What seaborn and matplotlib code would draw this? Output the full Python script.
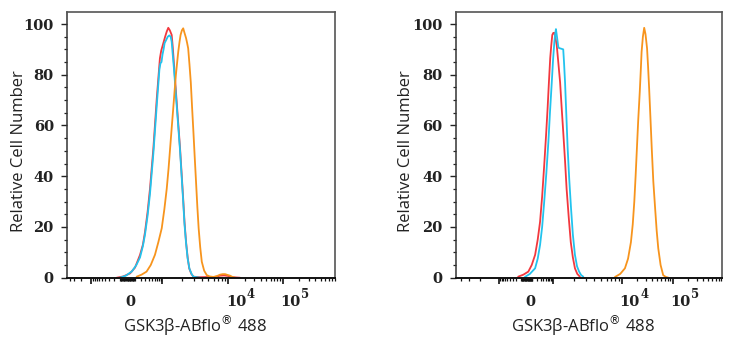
import numpy as np
import pandas as pd
import matplotlib
matplotlib.use("Agg")
import matplotlib.pyplot as plt
import matplotlib.transforms as mtransforms
import seaborn as sns

# ---------------- data (x in display channels 0-1024, y = relative cell number) -------------
left_red_x = [190, 215, 241, 260, 279, 290, 298, 308, 317, 330, 343, 355, 360, 366, 375, 381, 387, 393, 400, 404, 409, 419, 432, 438, 444, 449, 455, 461, 467, 475, 483, 508, 565, 585, 600, 615, 631, 661]
left_red_y = [0, 0.5, 1.7, 4, 9, 13, 18, 26, 35, 51, 70.7, 86.5, 89.5, 91.7, 95, 97, 98.5, 97.5, 95.7, 91, 83.8, 69.4, 51, 41, 31, 22, 14, 8, 3.7, 1.5, 0.4, 0.2, 0.3, 0.8, 0.9, 0.7, 0.2, 0]

left_blue_x = [202, 225, 248, 265, 279, 290, 298, 308, 317, 330, 343, 353, 357, 361, 365, 369, 373, 378, 385, 391, 396, 400, 404, 409, 419, 432, 438, 444, 449, 455, 461, 468, 476, 483, 508]
left_blue_y = [0, 0.8, 2.5, 5, 8, 12.5, 17, 24.5, 33, 49, 68, 82, 84.5, 85, 88, 90, 92.5, 93.5, 95, 95.5, 95, 93, 88, 82, 68, 50, 40, 30, 21, 13.5, 7.5, 3.5, 1.5, 0.4, 0]

left_orange_x = [266, 285, 304, 320, 336, 349, 362, 372, 381, 388, 394, 400, 406, 411, 416, 421, 425, 430, 434, 439, 444, 449, 455, 459, 463, 468, 473, 478, 483, 488, 493, 498, 503, 509, 515, 524, 534, 545, 559, 572, 585, 595, 604, 613, 623, 632, 642]
left_orange_y = [0.4, 1.2, 2.4, 5, 9, 14, 19.5, 27, 35, 43, 51, 59, 66.8, 73.5, 79.9, 85, 89, 93, 95.7, 97.5, 98.3, 96.5, 94.4, 92.5, 90.4, 84, 77, 67, 57.5, 47.5, 37.8, 28, 19.5, 12, 6.3, 2.8, 1, 0.5, 0.3, 0.6, 1.2, 1.4, 1.4, 1.1, 0.8, 0.3, 0]

right_red_x = [240, 260, 279, 292, 305, 315, 324, 332, 340, 347, 353, 358, 363, 367, 371, 375, 379, 383, 388, 394, 401, 407, 413, 420, 426, 434, 442, 450, 458, 467, 477]
right_red_y = [0.4, 1.2, 2.4, 5, 9, 15, 22, 32, 44.4, 56, 66.8, 77, 86.5, 91.5, 95.7, 96.5, 96.5, 94.5, 91.7, 85, 77, 67, 57.5, 46, 35, 24, 14, 8, 3.7, 1.5, 0.4]

right_blue_x = [266, 285, 305, 315, 324, 332, 340, 348, 356, 362, 369, 374, 379, 382, 385, 389, 394, 397, 401, 407, 413, 416, 420, 425, 430, 436, 443, 450, 458, 466, 474, 482, 490]
right_blue_y = [0.3, 1.5, 3.7, 7.5, 12.9, 20, 30, 41, 53.6, 65, 77, 86, 93, 96, 98, 95, 91, 90.5, 90.4, 90.2, 90, 85, 77, 64, 51, 39, 27.3, 17, 9, 4.5, 2.4, 1, 0.4]

right_orange_x = [612, 632, 650, 662, 673, 680, 686, 691, 696, 701, 707, 711, 714, 719, 724, 729, 735, 739, 743, 748, 753, 759, 766, 772, 778, 787, 797, 807, 817]
right_orange_y = [0.3, 1.5, 3.7, 7.5, 14, 21, 30, 40, 51, 62, 73.3, 82, 89, 95, 98.5, 96, 90.4, 83, 74.6, 63, 51, 38, 27.3, 18.5, 11.6, 5, 1, 0.3, 0]

series_names = ["Isotype", "Unstained", "GSK3β"]
series_colors = {"Isotype": "#f2383e", "Unstained": "#22c3ee", "GSK3β": "#f7941d"}

y_ticks = [0, 20, 40, 60, 80, 100]
x_tick_values = [0, 1e4, 1e5]
x_tick_bases = ["0", "10", "10"]
x_tick_exps = ["", "4", "5"]
x_label = "GSK3β-ABflo$^{®}$ 488"
y_label = "Relative Cell Number"

# axis decade anchors in channels: (-1e3, 0, 1e3, 1e4, 1e5, negative decade width)
left_axis = dict(m3=93.6, z=231.2, p3=364.1, p4=616.3, p5=824.2, wneg=137)
right_axis = dict(m3=166.3, z=273.9, p3=374.9, p4=637.6, p5=833.5, wneg=242)


def pos(v, a):
    if abs(v) <= 1000:
        frac = np.arcsinh(v / 200.0) / np.arcsinh(5.0)
        return a["z"] + frac * ((a["p3"] - a["z"]) if v >= 0 else (a["z"] - a["m3"]))
    if v < -1000:
        return a["m3"] - np.log10(-v / 1000.0) * a["wneg"]
    lv = np.log10(v)
    if lv <= 4:
        return a["p3"] + (lv - 3) * (a["p4"] - a["p3"])
    return a["p4"] + (lv - 4) * (a["p5"] - a["p4"])


def frame(panel, series, xs, ys):
    return pd.DataFrame({"panel": panel, "series": series, "x": xs, "y": ys})


df = pd.concat([
    frame("L", "Isotype", left_red_x, left_red_y),
    frame("L", "Unstained", left_blue_x, left_blue_y),
    frame("L", "GSK3β", left_orange_x, left_orange_y),
    frame("R", "Isotype", right_red_x, right_red_y),
    frame("R", "Unstained", right_blue_x, right_blue_y),
    frame("R", "GSK3β", right_orange_x, right_orange_y),
], ignore_index=True)

sns.set_style("white")
plt.rcParams["font.family"] = ["Open Sans", "DejaVu Sans"]
plt.rcParams["mathtext.fontset"] = "dejavusans"

fig = plt.figure(figsize=(7.38, 3.5), dpi=100)
W, H = 738.0, 350.0
panels = [("L", 67.0, 335.0, 19.0, left_axis), ("R", 455.7, 722.3, 406.0, right_axis)]
top_px, bot_px = 12.3, 277.7
px2pt = 72.0 / 100.0

for key, x0, x1, ylab_x, a in panels:
    ax = fig.add_axes([x0 / W, (H - bot_px) / H, (x1 - x0) / W, (bot_px - top_px) / H])
    sub = df[df["panel"] == key]
    sns.lineplot(data=sub, x="x", y="y", hue="series", hue_order=series_names,
                 palette=series_colors, sort=False, estimator=None, legend=False,
                 linewidth=1.3, ax=ax)
    for ln in ax.get_lines():
        ln.set_solid_joinstyle("round")
        ln.set_solid_capstyle("round")
    ax.set_xlim(0, 1024)
    ax.set_ylim(0, 100 * (bot_px - top_px) / (bot_px - 24.0))

    # spines
    for s in ["top", "right"]:
        ax.spines[s].set_color("#555555")
        ax.spines[s].set_linewidth(1.2)
    ax.spines["left"].set_color("#333333")
    ax.spines["left"].set_linewidth(1.1)
    ax.spines["bottom"].set_color("#111111")
    ax.spines["bottom"].set_linewidth(1.4)

    # y ticks
    ax.set_yticks(y_ticks)
    ax.set_yticks(np.arange(0, 101, 5), minor=True)
    ax.set_yticklabels([str(t) for t in y_ticks], family="DejaVu Serif",
                       fontweight="bold", fontsize=10.5, color="#222222")
    ax.tick_params(axis="y", which="major", direction="out", length=4.5, width=1.0,
                   color="#222222", pad=5.0, left=True)
    ax.tick_params(axis="y", which="minor", direction="out", length=2.2, width=0.9,
                   color="#222222", left=True)

    # x ticks (biexponential-like display)
    majors = [pos(v, a) for v in (-1e3, 1e3, 1e4, 1e5)]
    minors = [pos(0, a)]
    for base in (10, 100):
        for m in range(1, 10):
            minors += [pos(m * base, a), pos(-m * base, a)]
    for base in (1e3, 1e4, 1e5):
        for m in range(2, 10):
            minors.append(pos(m * base, a))
    for m in range(2, 10):
        minors.append(pos(-m * 1e3, a))
    minors = [p for p in minors if 1 < p < 1023]
    ax.set_xticks(majors)
    ax.set_xticklabels([])
    ax.set_xticks(minors, minor=True)
    ax.tick_params(axis="x", which="major", direction="out", length=4.5, width=1.2,
                   color="#111111", bottom=True)
    ax.tick_params(axis="x", which="minor", direction="out", length=2.4, width=0.9,
                   color="#111111", bottom=True)

    # x tick labels: base and raised exponent
    base_tr = mtransforms.offset_copy(ax.get_xaxis_transform(), fig=fig,
                                      x=-2 * px2pt, y=-(306.5 - bot_px) * px2pt, units="points")
    exp_tr = mtransforms.offset_copy(ax.get_xaxis_transform(), fig=fig,
                                     x=18.5 * px2pt, y=-(298.0 - bot_px) * px2pt, units="points")
    for v, b, e in zip(x_tick_values, x_tick_bases, x_tick_exps):
        xp = pos(v, a)
        ax.text(xp, 0, b, transform=base_tr, ha="left", va="baseline",
                family="DejaVu Serif", fontweight="bold", fontsize=10.5, color="#222222")
        if e:
            ax.text(xp, 0, e, transform=exp_tr, ha="left", va="baseline",
                    family="DejaVu Serif", fontweight="bold", fontsize=8.5, color="#222222")

    ax.set_xlabel("")
    ax.set_ylabel("")
    fig.text((x0 + x1) / 2 / W - 6 / W, 1 - 325.5 / H, x_label, ha="center", va="center",
             fontsize=12, color="#222222")
    fig.text(ylab_x / W, 1 - 151.0 / H, y_label, rotation=90, ha="center", va="center",
             fontsize=12, color="#222222")

fig.savefig("out.png", dpi=100, facecolor="white")
